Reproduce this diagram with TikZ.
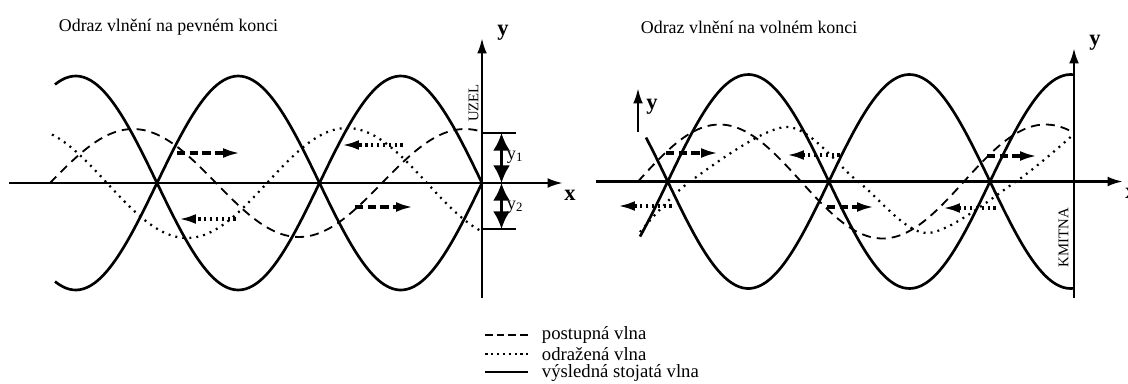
\documentclass[tikz,border=0pt]{standalone}
\usepackage{fontspec}
\setmainfont{Liberation Serif}
\usetikzlibrary{arrows.meta}

\begin{document}
\begin{tikzpicture}[x=0.025cm, y=-0.025cm, >={Latex[length=12pt,width=7pt]},
    stojata/.style={line width=1.9pt},
    postupna/.style={line width=1.3pt, dash pattern=on 6.4pt off 4.3pt},
    odrazena/.style={line width=1.6pt, dash pattern=on 1.4pt off 3.6pt},
    postsip/.style={->, line width=2.2pt, dash pattern=on 6pt off 3pt},
    odrsip/.style={->, line width=2.2pt, dash pattern=on 1.8pt off 2.4pt},
    osa/.style={-{Latex[length=11pt,width=7pt]}, line width=1.8pt},
    popis/.style={font=\fontsize{16}{18}\selectfont\bfseries},
    nadpis/.style={font=\fontsize{12.7}{15}\selectfont, anchor=west},
    svisle/.style={font=\fontsize{10.5}{12}\selectfont, rotate=90}]

    \useasboundingbox (0,0) rectangle (1128,383);

    % Left: reflection on the fixed end
    \node[nadpis] (nadpisL) at (54,27) {Odraz vlnění na pevném konci};

    \draw[osa] (9,183) -- (563,183);
    \draw[osa] (482,298) -- (482,38);
    \node[popis] (xL) at (570,195) {x};
    \node[popis] (yL) at (503,33) {y};

    \draw[stojata, domain=55:482, samples=120, smooth] plot (\x, {183-107*sin((482-\x)/162.5*180)});
    \draw[stojata, domain=55:482, samples=120, smooth] plot (\x, {183+107*sin((482-\x)/162.5*180)});
    \draw[postupna, domain=50:482, samples=100, smooth] plot (\x, {183-54*sin((\x-50)/166*180)});
    \draw[odrazena, domain=52:482, samples=100, smooth] plot (\x, {183+55*sin((\x-107)/160*180)});

    \draw[postsip] (177,153) -- (240,153);
    \draw[odrsip] (403,145) -- (342,145);
    \draw[odrsip] (236,219) -- (179,219);
    \draw[postsip] (355,207) -- (413,207);

    % amplitudes at the end
    \draw[line width=1.3pt] (482,133) -- (516,133);
    \draw[line width=1.3pt] (482,229) -- (516,229);
    \draw[{Latex[length=12.5pt,width=12pt]}-{Latex[length=12.5pt,width=12pt]}, line width=1.8pt] (501.5,133) -- (501.5,183);
    \draw[{Latex[length=12.5pt,width=12pt]}-{Latex[length=12.5pt,width=12pt]}, line width=1.8pt] (501.5,183) -- (501.5,229);
    \node[anchor=west, font=\fontsize{13}{15}\selectfont] (y1) at (502,157) {y\textsubscript{1}};
    \node[anchor=west, font=\fontsize{13}{15}\selectfont] (y2) at (502,207) {y\textsubscript{2}};
    \node[svisle] (uzel) at (473.5,103) {UZEL};

    % Right: reflection on the free end
    \node[nadpis] (nadpisR) at (636,27) {Odraz vlnění na volném konci};

    \draw[osa] (596,181.5) -- (1123,181.5);
    \draw[osa] (1074,298) -- (1074,48);
    \node[popis] (xR) at (1131,193) {x};
    \node[popis] (yR) at (1095,43) {y};
    \draw[osa] (638,132) -- (638,88);
    \node[popis] (ymaly) at (652,107) {y};

    \draw[stojata, domain=640:1074, samples=120, smooth] plot (\x, {181.5-107*cos((\x-748.3)/161.15*180)});
    \draw[stojata, domain=646:1074, samples=120, smooth] plot (\x, {181.5+107*cos((\x-748.3)/161.15*180)});
    \draw[postupna, domain=638:1074, samples=100, smooth] plot (\x, {181.5-57*sin((\x-638)/163*180)});
    \draw[odrazena] plot[smooth] coordinates {(640,232) (690,181.5) (787,127) (858,181.5) (927,233) (1016,181.5) (1074,134)};

    \draw[postsip] (666,153) -- (718,153);
    \draw[odrsip] (840,155) -- (787,155);
    \draw[odrsip] (672,206) -- (618,206);
    \draw[postsip] (827,207) -- (874,207);
    \draw[odrsip] (996,208) -- (943,208);
    \draw[postsip] (987,156) -- (1037,156);
    \node[svisle] (kmitna) at (1063.5,237.5) {KMITNA};

    % Legend
    \draw[line width=1.8pt, dash pattern=on 5.5pt off 2.8pt] (485,335) -- (528,335);
    \draw[line width=1.8pt, dash pattern=on 1.8pt off 2.4pt] (485,354) -- (528,354);
    \draw[line width=1.8pt] (485,372) -- (528,372);
    \node[anchor=west, font=\fontsize{13.3}{15}\selectfont] (lpost) at (537,335) {postupná vlna};
    \node[anchor=west, font=\fontsize{13.3}{15}\selectfont] (lodr) at (537,354) {odražená vlna};
    \node[anchor=west, font=\fontsize{13.3}{15}\selectfont] (lstoj) at (537,373) {výsledná stojatá vlna};

\end{tikzpicture}
\end{document}
